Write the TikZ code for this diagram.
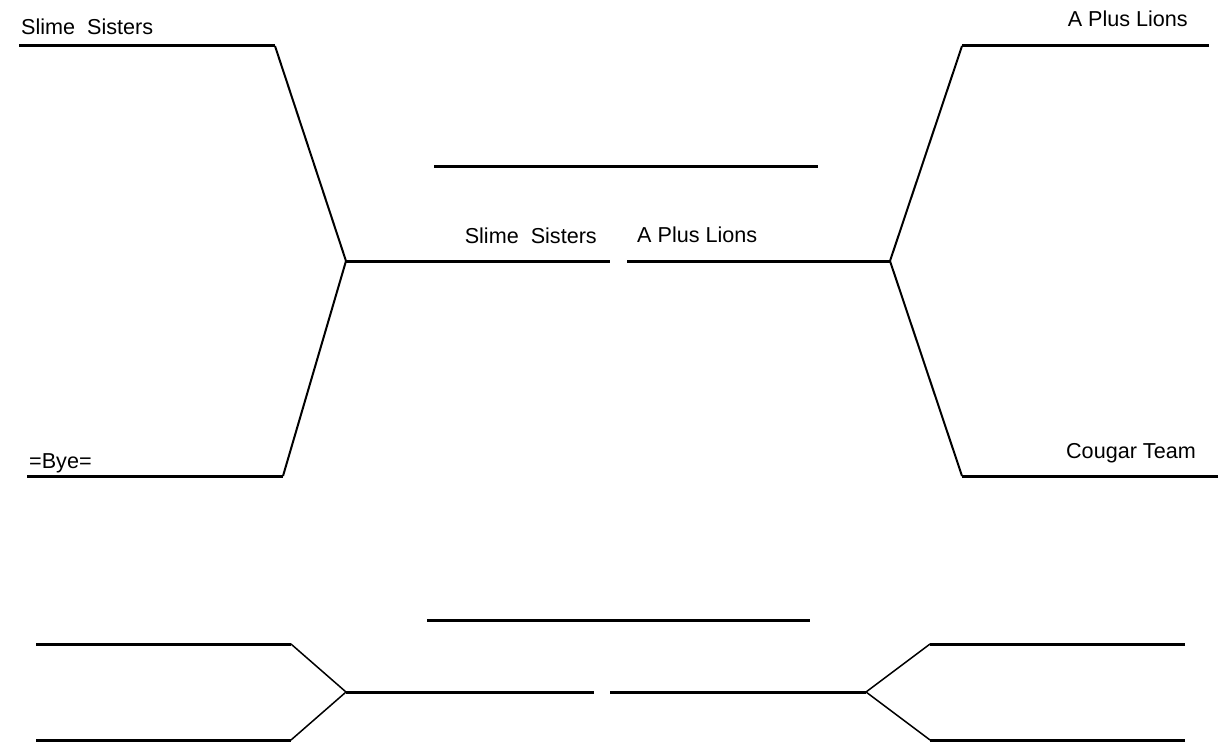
\documentclass[tikz,border=0pt]{standalone}
\usepackage{fontspec}
\setmainfont{Liberation Sans}
\begin{document}
\begin{tikzpicture}[x=1pt,y=-1pt,
  hline/.style={line width=3pt},
  dline/.style={line width=2pt},
  tline/.style={line width=1.5pt},
  lbl/.style={inner sep=0pt,font=\fontsize{21.6}{26}\selectfont}]
\useasboundingbox[fill=white] (0,0) rectangle (1225,752);
% coordinates, top bracket
\coordinate (a1) at (19,46);   \coordinate (a2) at (275,46);
\coordinate (b1) at (27,476);  \coordinate (b2) at (283,476);
\coordinate (m1) at (346,261); \coordinate (m2) at (610,261);
\coordinate (c1) at (1209,46); \coordinate (c2) at (962,46);
\coordinate (d1) at (1218,476);\coordinate (d2) at (962,476);
\coordinate (n1) at (890,261); \coordinate (n2) at (627,261);
\coordinate (w1) at (434,166); \coordinate (w2) at (818,166);
% bottom bracket
\coordinate (e1) at (36,644);  \coordinate (e2) at (291,644);
\coordinate (f1) at (36,740);  \coordinate (f2) at (291,740);
\coordinate (p1) at (346,692); \coordinate (p2) at (594,692);
\coordinate (g1) at (1185,644);\coordinate (g2) at (930,644);
\coordinate (h1) at (1185,740);\coordinate (h2) at (930,740);
\coordinate (q1) at (866,692); \coordinate (q2) at (610,692);
\coordinate (v1) at (427,620); \coordinate (v2) at (810,620);
% lines
\draw[hline] (a1) -- (a2);
\draw[dline] (a2) -- (m1);
\draw[hline] (b1) -- (b2);
\draw[dline] (b2) -- (m1);
\draw[hline] (m1) -- (m2);
\draw[hline] (c1) -- (c2);
\draw[dline] (c2) -- (n1);
\draw[hline] (d1) -- (d2);
\draw[dline] (d2) -- (n1);
\draw[hline] (n1) -- (n2);
\draw[hline] (w1) -- (w2);
\draw[hline] (e1) -- (e2);
\draw[tline] (e2) -- (p1);
\draw[hline] (f1) -- (f2);
\draw[tline] (f2) -- (p1);
\draw[hline] (p1) -- (p2);
\draw[hline] (g1) -- (g2);
\draw[tline] (g2) -- (q1);
\draw[hline] (h1) -- (h2);
\draw[tline] (h2) -- (q1);
\draw[hline] (q1) -- (q2);
\draw[hline] (v1) -- (v2);
% labels
\node[lbl,anchor=base west] (t1) at (21,35) {Slime\ \ Sisters};
\node[lbl,anchor=base east] (t2) at (1188,27) {A Plus Lions};
\node[lbl,anchor=base west] (t3) at (29,468) {=Bye=};
\node[lbl,anchor=base east] (t4) at (1196,458) {Cougar Team};
\node[lbl,anchor=base east] (t5) at (597,243) {Slime\ \ Sisters};
\node[lbl,anchor=base west] (t6) at (637,242) {A Plus Lions};
\end{tikzpicture}
\end{document}
